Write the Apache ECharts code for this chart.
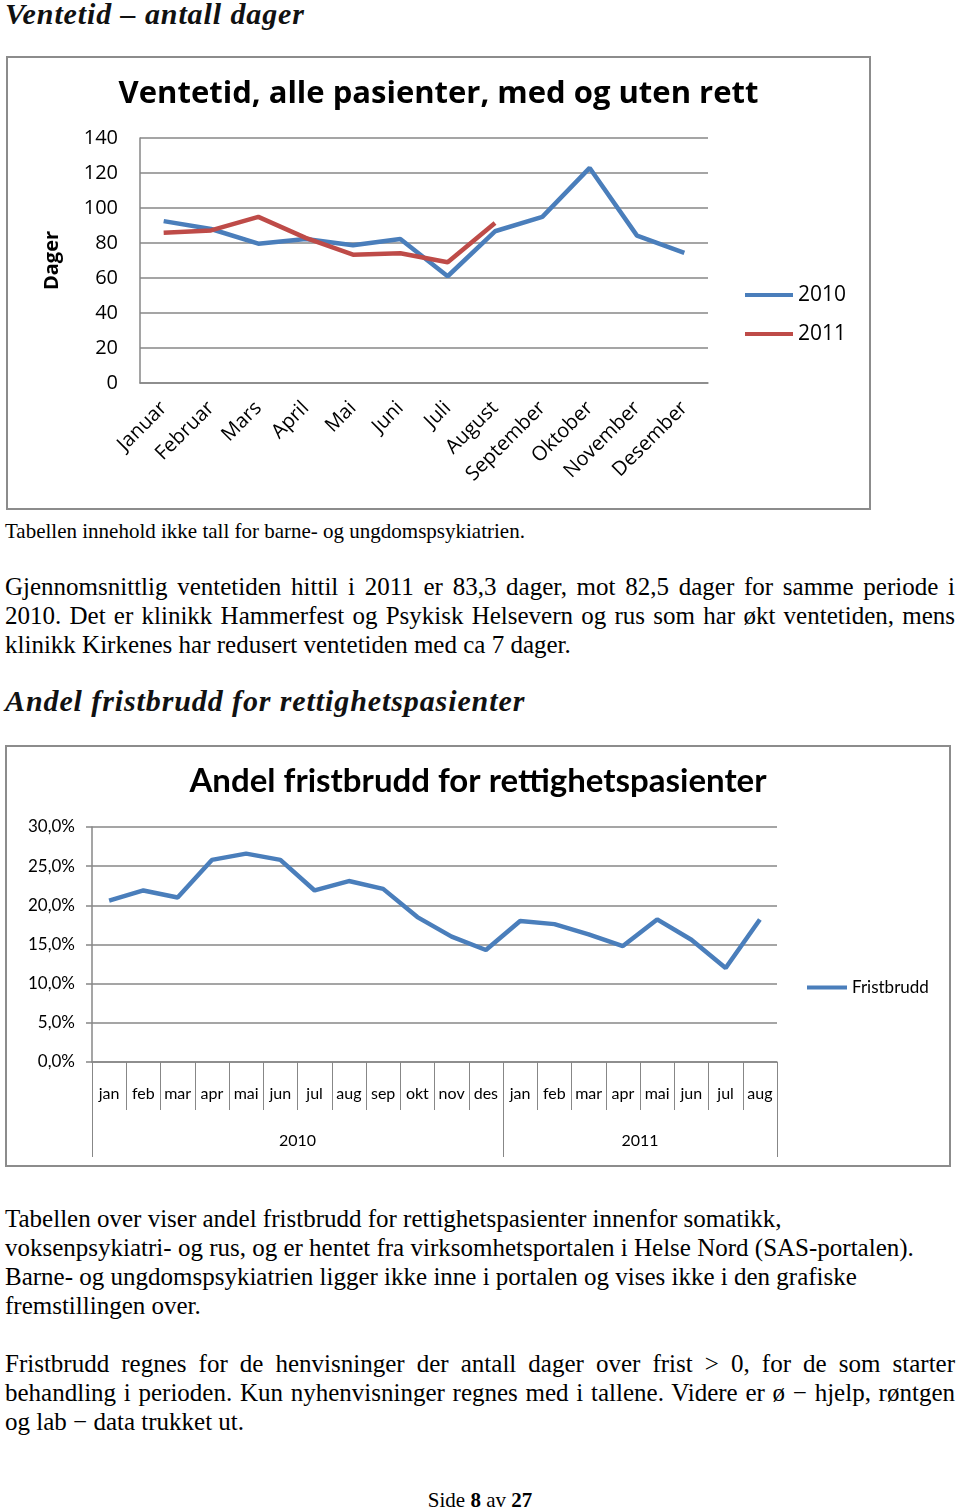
<!DOCTYPE html>
<html>
<head>
<meta charset="utf-8">
<script src="https://cdn.jsdelivr.net/npm/echarts@6/dist/echarts.min.js"></script>
<style>
  html, body { margin:0; padding:0; background:#fff; }
  body { width:960px; height:1509px; position:relative; overflow:hidden; }
  .abs { position:absolute; }
  .h { font-family:"Liberation Serif", serif; font-weight:bold; font-style:italic; color:#111; white-space:nowrap; font-size:30px; line-height:34px; letter-spacing:0.9px; }
  .t { font-family:"Liberation Serif", serif; color:#000; font-size:25px; line-height:29px; left:5px; width:950px; white-space:nowrap; }
  .j { text-align:justify; text-align-last:justify; white-space:normal; }
  .box { border:2px solid #8c8c8c; box-sizing:border-box; }
</style>
</head>
<body>
<div class="abs h" style="left:5px; top:-3px;">Ventetid – antall dager</div>

<div class="abs box" style="left:6px; top:56px; width:865px; height:454px;"></div>
<div id="c1" class="abs" style="left:8px; top:58px; width:861px; height:450px;"></div>

<div class="abs t" style="top:520px; font-size:21px; line-height:22px;">Tabellen innehold ikke tall for barne- og ungdomspsykiatrien.</div>

<div class="abs t j" style="top:572px;">Gjennomsnittlig ventetiden hittil i 2011 er 83,3 dager, mot 82,5 dager for samme periode i</div>
<div class="abs t j" style="top:601px;">2010. Det er klinikk Hammerfest og Psykisk Helsevern og rus som har økt ventetiden, mens</div>
<div class="abs t" style="top:630px;">klinikk Kirkenes har redusert ventetiden med ca 7 dager.</div>

<div class="abs h" style="left:5px; top:684px;">Andel fristbrudd for rettighetspasienter</div>

<div class="abs box" style="left:5px; top:745px; width:946px; height:422px;"></div>
<div id="c2" class="abs" style="left:7px; top:747px; width:942px; height:418px;"></div>

<div class="abs t" style="top:1204px;">Tabellen over viser andel fristbrudd for rettighetspasienter innenfor somatikk,</div>
<div class="abs t" style="top:1233px;">voksenpsykiatri- og rus, og er hentet fra virksomhetsportalen i Helse Nord (SAS-portalen).</div>
<div class="abs t" style="top:1262px;">Barne- og ungdomspsykiatrien ligger ikke inne i portalen og vises ikke i den grafiske</div>
<div class="abs t" style="top:1291px;">fremstillingen over.</div>

<div class="abs t j" style="top:1349px;">Fristbrudd regnes for de henvisninger der antall dager over frist &gt; 0, for de som starter</div>
<div class="abs t j" style="top:1378px;">behandling i perioden. Kun nyhenvisninger regnes med i tallene. Videre er ø − hjelp, røntgen</div>
<div class="abs t" style="top:1407px;">og lab − data trukket ut.</div>

<div class="abs t" style="top:1486px; text-align:center; font-size:21px;">Side <b>8</b> av <b>27</b></div>

<script>
// ---- Data: chart 1 ----
const months1 = ['Januar','Februar','Mars','April','Mai','Juni','Juli','August','September','Oktober','November','Desember'];
const ventetid2010 = [92.5, 88.0, 79.6, 82.3, 78.7, 82.3, 61.0, 86.7, 94.9, 122.9, 84.2, 74.3];
const ventetid2011 = [85.9, 87.2, 94.9, 82.9, 73.3, 74.1, 69.0, 91.4];
const seriesNames1 = ['2010', '2011'];

// ---- Data: chart 2 ----
const months2 = ['jan','feb','mar','apr','mai','jun','jul','aug','sep','okt','nov','des',
                 'jan','feb','mar','apr','mai','jun','jul','aug'];
const fristbrudd = [20.6, 21.9, 21.0, 25.8, 26.6, 25.8, 21.9, 23.1, 22.1, 18.5, 16.0, 14.3,
                    18.0, 17.6, 16.3, 14.8, 18.2, 15.6, 12.0, 18.2];
const years2 = ['2010', '2011'];
const monthsPerYear = [12, 8];

const BLUE = '#4a7ebb', RED = '#be4b48', GRID = '#878787';
const FONT = 'Lato, "Open Sans", sans-serif';
const FONT1 = '"Open Sans", sans-serif';

// ---- Chart 1 ----
const c1 = echarts.init(document.getElementById('c1'));
c1.setOption({
  animation: false,
  title: { text: 'Ventetid, alle pasienter, med og uten rett', left: 'center', top: 16,
    textStyle: { fontFamily: FONT1, fontSize: 31, fontWeight: 'bold', color: '#000' } },
  legend: { orient: 'vertical', left: 732, top: 221, icon: 'rect', itemWidth: 48, itemHeight: 4,
    itemGap: 17, textStyle: { fontFamily: FONT1, fontSize: 21, color: '#000', lineHeight: 22 },
    data: seriesNames1 },
  grid: { left: 132, top: 80, right: 161, bottom: 125 },
  xAxis: { type: 'category', data: months1, boundaryGap: true,
    axisLine: { lineStyle: { color: GRID, width: 1.5 } }, axisTick: { show: false },
    axisLabel: { interval: 0, rotate: 45, margin: 22, fontFamily: FONT1, fontSize: 20, color: '#000' } },
  yAxis: { type: 'value', min: 0, max: 140, interval: 20, name: 'Dager', nameLocation: 'middle',
    nameGap: 78, nameRotate: 90,
    nameTextStyle: { fontFamily: FONT1, fontSize: 20, fontWeight: 'bold', color: '#000' },
    axisLine: { show: true, lineStyle: { color: GRID, width: 1.5 } }, axisTick: { show: false },
    axisLabel: { margin: 22, fontFamily: FONT1, fontSize: 20, color: '#000' },
    splitLine: { lineStyle: { color: GRID, width: 1.5 } } },
  series: [
    { name: seriesNames1[0], type: 'line', data: ventetid2010, symbol: 'none',
      lineStyle: { color: BLUE, width: 4.5 }, itemStyle: { color: BLUE } },
    { name: seriesNames1[1], type: 'line', data: ventetid2011, symbol: 'none',
      lineStyle: { color: RED, width: 4.5 }, itemStyle: { color: RED } }
  ]
});

// ---- Chart 2 ----
const bounds = [0]; const centers = [];
monthsPerYear.forEach((n, i) => { centers.push(bounds[i] + n / 2); bounds.push(bounds[i] + n); });
const c2 = echarts.init(document.getElementById('c2'));
c2.setOption({
  animation: false,
  title: { text: 'Andel fristbrudd for rettighetspasienter', left: 'center', top: 13,
    textStyle: { fontFamily: FONT, fontSize: 33, fontWeight: 'bold', color: '#000' } },
  legend: { left: 795, top: 227, icon: 'rect', itemWidth: 40, itemHeight: 4,
    textStyle: { fontFamily: FONT, fontSize: 17, color: '#000' }, data: ['Fristbrudd'] },
  grid: { left: 85, top: 80, right: 172, bottom: 103 },
  xAxis: [
    { type: 'category', data: months2, boundaryGap: true,
      axisLine: { lineStyle: { color: GRID, width: 1.5 } },
      axisTick: { show: true, interval: 0, length: 48, lineStyle: { color: GRID, width: 1 } },
      axisLabel: { interval: 0, margin: 24, fontFamily: FONT, fontSize: 16, color: '#000' } },
    { type: 'value', min: 0, max: bounds[bounds.length - 1], position: 'bottom',
      axisLine: { show: false }, splitLine: { show: false },
      axisTick: { show: true, customValues: bounds, length: 95, lineStyle: { color: GRID, width: 1 } },
      axisLabel: { customValues: centers, margin: 71, fontFamily: FONT, fontSize: 16, color: '#000',
        formatter: v => years2[centers.indexOf(v)] } }
  ],
  yAxis: { type: 'value', min: 0, max: 30, interval: 5,
    axisLine: { show: true, lineStyle: { color: GRID, width: 1.5 } },
    axisTick: { show: true, length: 6, lineStyle: { color: GRID, width: 1.5 } },
    axisLabel: { margin: 17, fontFamily: FONT, fontSize: 17, color: '#000',
      formatter: v => v.toFixed(1).replace('.', ',') + '%' },
    splitLine: { lineStyle: { color: GRID, width: 1.5 } } },
  series: [
    { name: 'Fristbrudd', type: 'line', data: fristbrudd, symbol: 'none', xAxisIndex: 0,
      lineStyle: { color: BLUE, width: 4.5 }, itemStyle: { color: BLUE } }
  ]
});
</script>
</body>
</html>
